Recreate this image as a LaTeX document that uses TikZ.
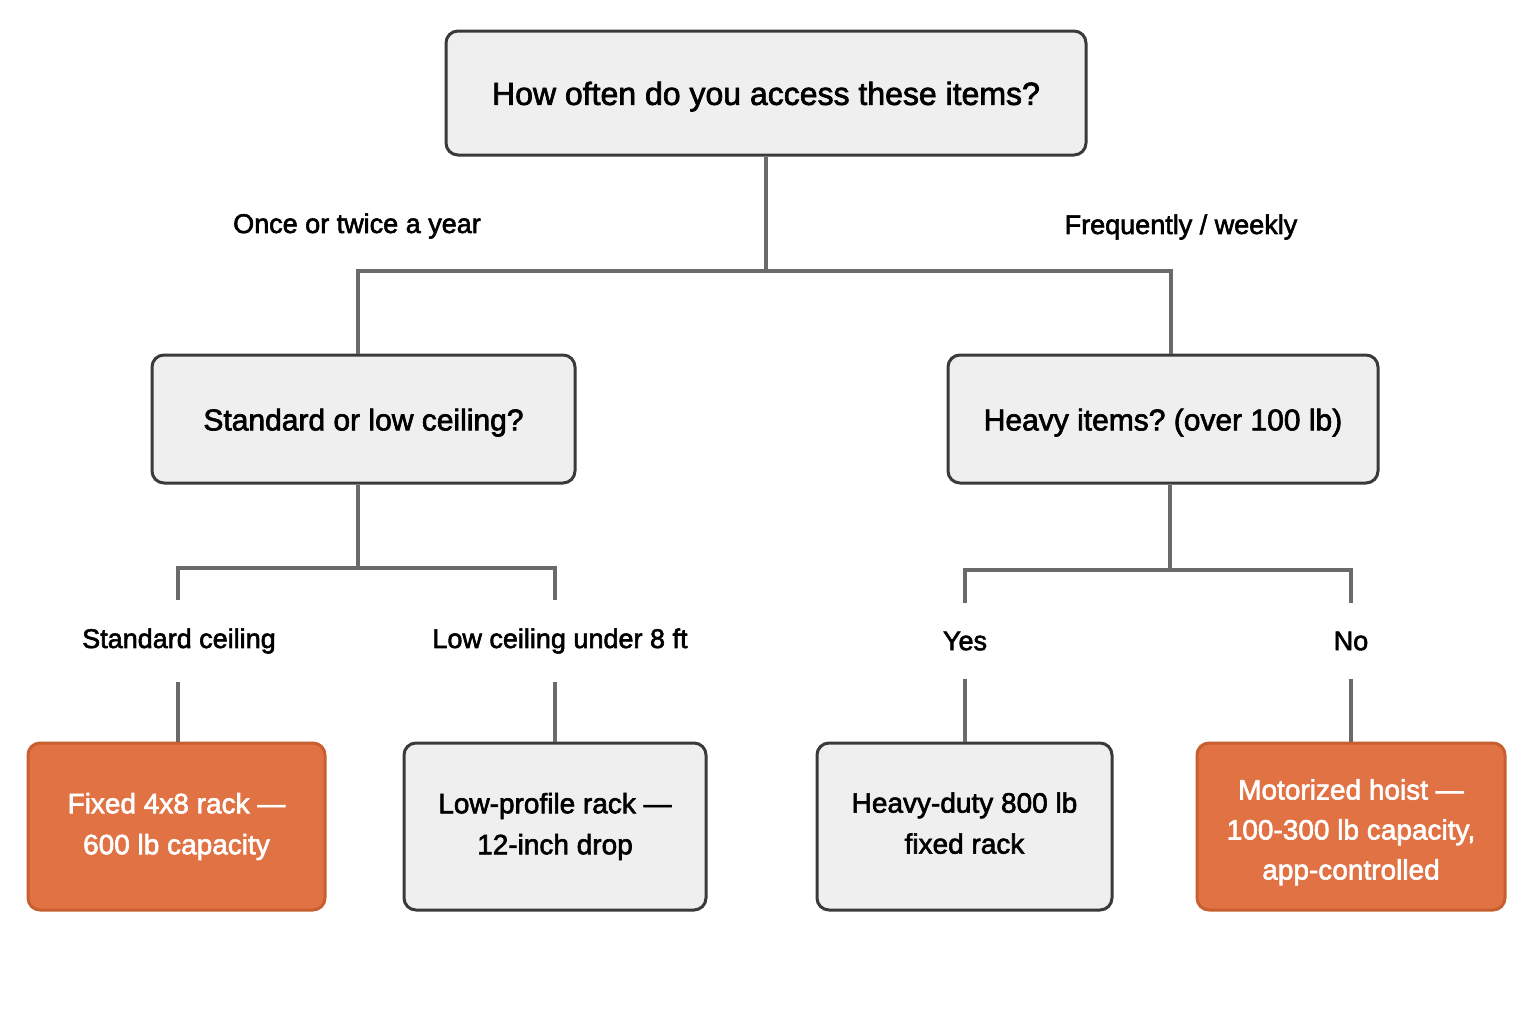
\documentclass[tikz,border=0pt]{standalone}
\usepackage{fontspec}
\setmainfont{Liberation Sans}[FakeBold=2.2]
\frenchspacing
\newcommand{\dn}[1]{\raisebox{-1.8pt}[\height][\depth]{#1}}
\begin{document}
\begin{tikzpicture}[x=0.5pt,y=-0.5pt,
  conn/.style={draw=lineg,line width=2pt},
  qbox/.style={draw=boxb,fill=boxf,line width=1.5pt,rounded corners=6pt,align=center,text=black,inner sep=0pt},
  obox/.style={draw=orb,fill=orf,line width=1.5pt,rounded corners=6pt,align=center,text=white,inner sep=0pt},
  lbl/.style={font=\fontsize{13.5}{16}\selectfont,text=black,inner sep=0pt}]
\definecolor{lineg}{HTML}{6A6A6A}
\definecolor{boxb}{HTML}{3A3A3A}
\definecolor{boxf}{HTML}{EFEFEF}
\definecolor{orf}{HTML}{E07244}
\definecolor{orb}{HTML}{C85F30}
\useasboundingbox[fill=white] (0,0) rectangle (1536,1024);
% boxes
\node[qbox,minimum width=320pt,minimum height=62pt,font=\fontsize{16}{19}\selectfont] (top) at (766,93) {\dn{How often do you access these items?}};
\node[qbox,minimum width=211.5pt,minimum height=64pt,font=\fontsize{15}{18}\selectfont] (std) at (363.5,419) {\dn{Standard or low ceiling?}};
\node[qbox,minimum width=215pt,minimum height=64pt,font=\fontsize{15}{18}\selectfont] (hvy) at (1163,419) {\dn{Heavy items? (over 100 lb)}};
\node[obox,minimum width=148.5pt,minimum height=83.5pt,font=\fontsize{14}{20.5}\selectfont] (fix) at (176.5,826.5) {Fixed 4x8 rack —\\600 lb capacity};
\node[qbox,minimum width=151pt,minimum height=83.5pt,font=\fontsize{14}{20.5}\selectfont] (low) at (555,826.5) {Low-profile rack —\\12-inch drop};
\node[qbox,minimum width=147.5pt,minimum height=83.5pt,font=\fontsize{14}{20.5}\selectfont] (hd) at (964.5,826.5) {\raisebox{0.8pt}[\height][\depth]{\begin{tabular}{@{}c@{}}Heavy-duty 800 lb\\fixed rack\end{tabular}}};
\node[obox,minimum width=154pt,minimum height=83.5pt,font=\fontsize{14}{20}\selectfont] (mot) at (1351,826.5) {\raisebox{-2.5pt}[\height][\depth]{\begin{tabular}{@{}c@{}}Motorized hoist —\\100-300 lb capacity,\\app-controlled\end{tabular}}};
% labels
\node[lbl] (l1) at (357,226) {Once or twice a year};
\node[lbl] (l2) at (1181,227) {Frequently / weekly};
\node[lbl,inner sep=14pt] (l3) at (179,641) {Standard ceiling};
\node[lbl,inner sep=14pt] (l4) at (560,641) {Low ceiling under 8 ft};
\node[lbl,inner sep=14pt] (l5) at (965,641) {Yes};
\node[lbl,inner sep=14pt] (l6) at (1351,641) {No};
% junctions
\coordinate (j1) at (766,271);
\coordinate (j1l) at (358,271);
\coordinate (j1r) at (1171,271);
\coordinate (j2) at (358,568);
\coordinate (j2l) at (178,568);
\coordinate (j2r) at (555,568);
\coordinate (j3) at (1170,570);
\coordinate (j3l) at (965,570);
\coordinate (j3r) at (1351,570);
% connectors
\draw[conn] (top.south -| j1) -- (j1);
\draw[conn] (j1l |- std.north) -- (j1l) -- (j1r) -- (j1r |- hvy.north);
\draw[conn] (std.south -| j2) -- (j2);
\draw[conn] (l3.north -| j2l) -- (j2l) -- (j2r) -- (l4.north -| j2r);
\draw[conn] (hvy.south -| j3) -- (j3);
\draw[conn] (l5.north -| j3l) -- (j3l) -- (j3r) -- (l6.north -| j3r);
\draw[conn] (l3.south -| j2l) -- (fix.north -| j2l);
\draw[conn] (l4.south -| j2r) -- (low.north -| j2r);
\draw[conn] (l5.south -| j3l) -- (hd.north -| j3l);
\draw[conn] (l6.south -| j3r) -- (mot.north -| j3r);
\end{tikzpicture}
\end{document}
